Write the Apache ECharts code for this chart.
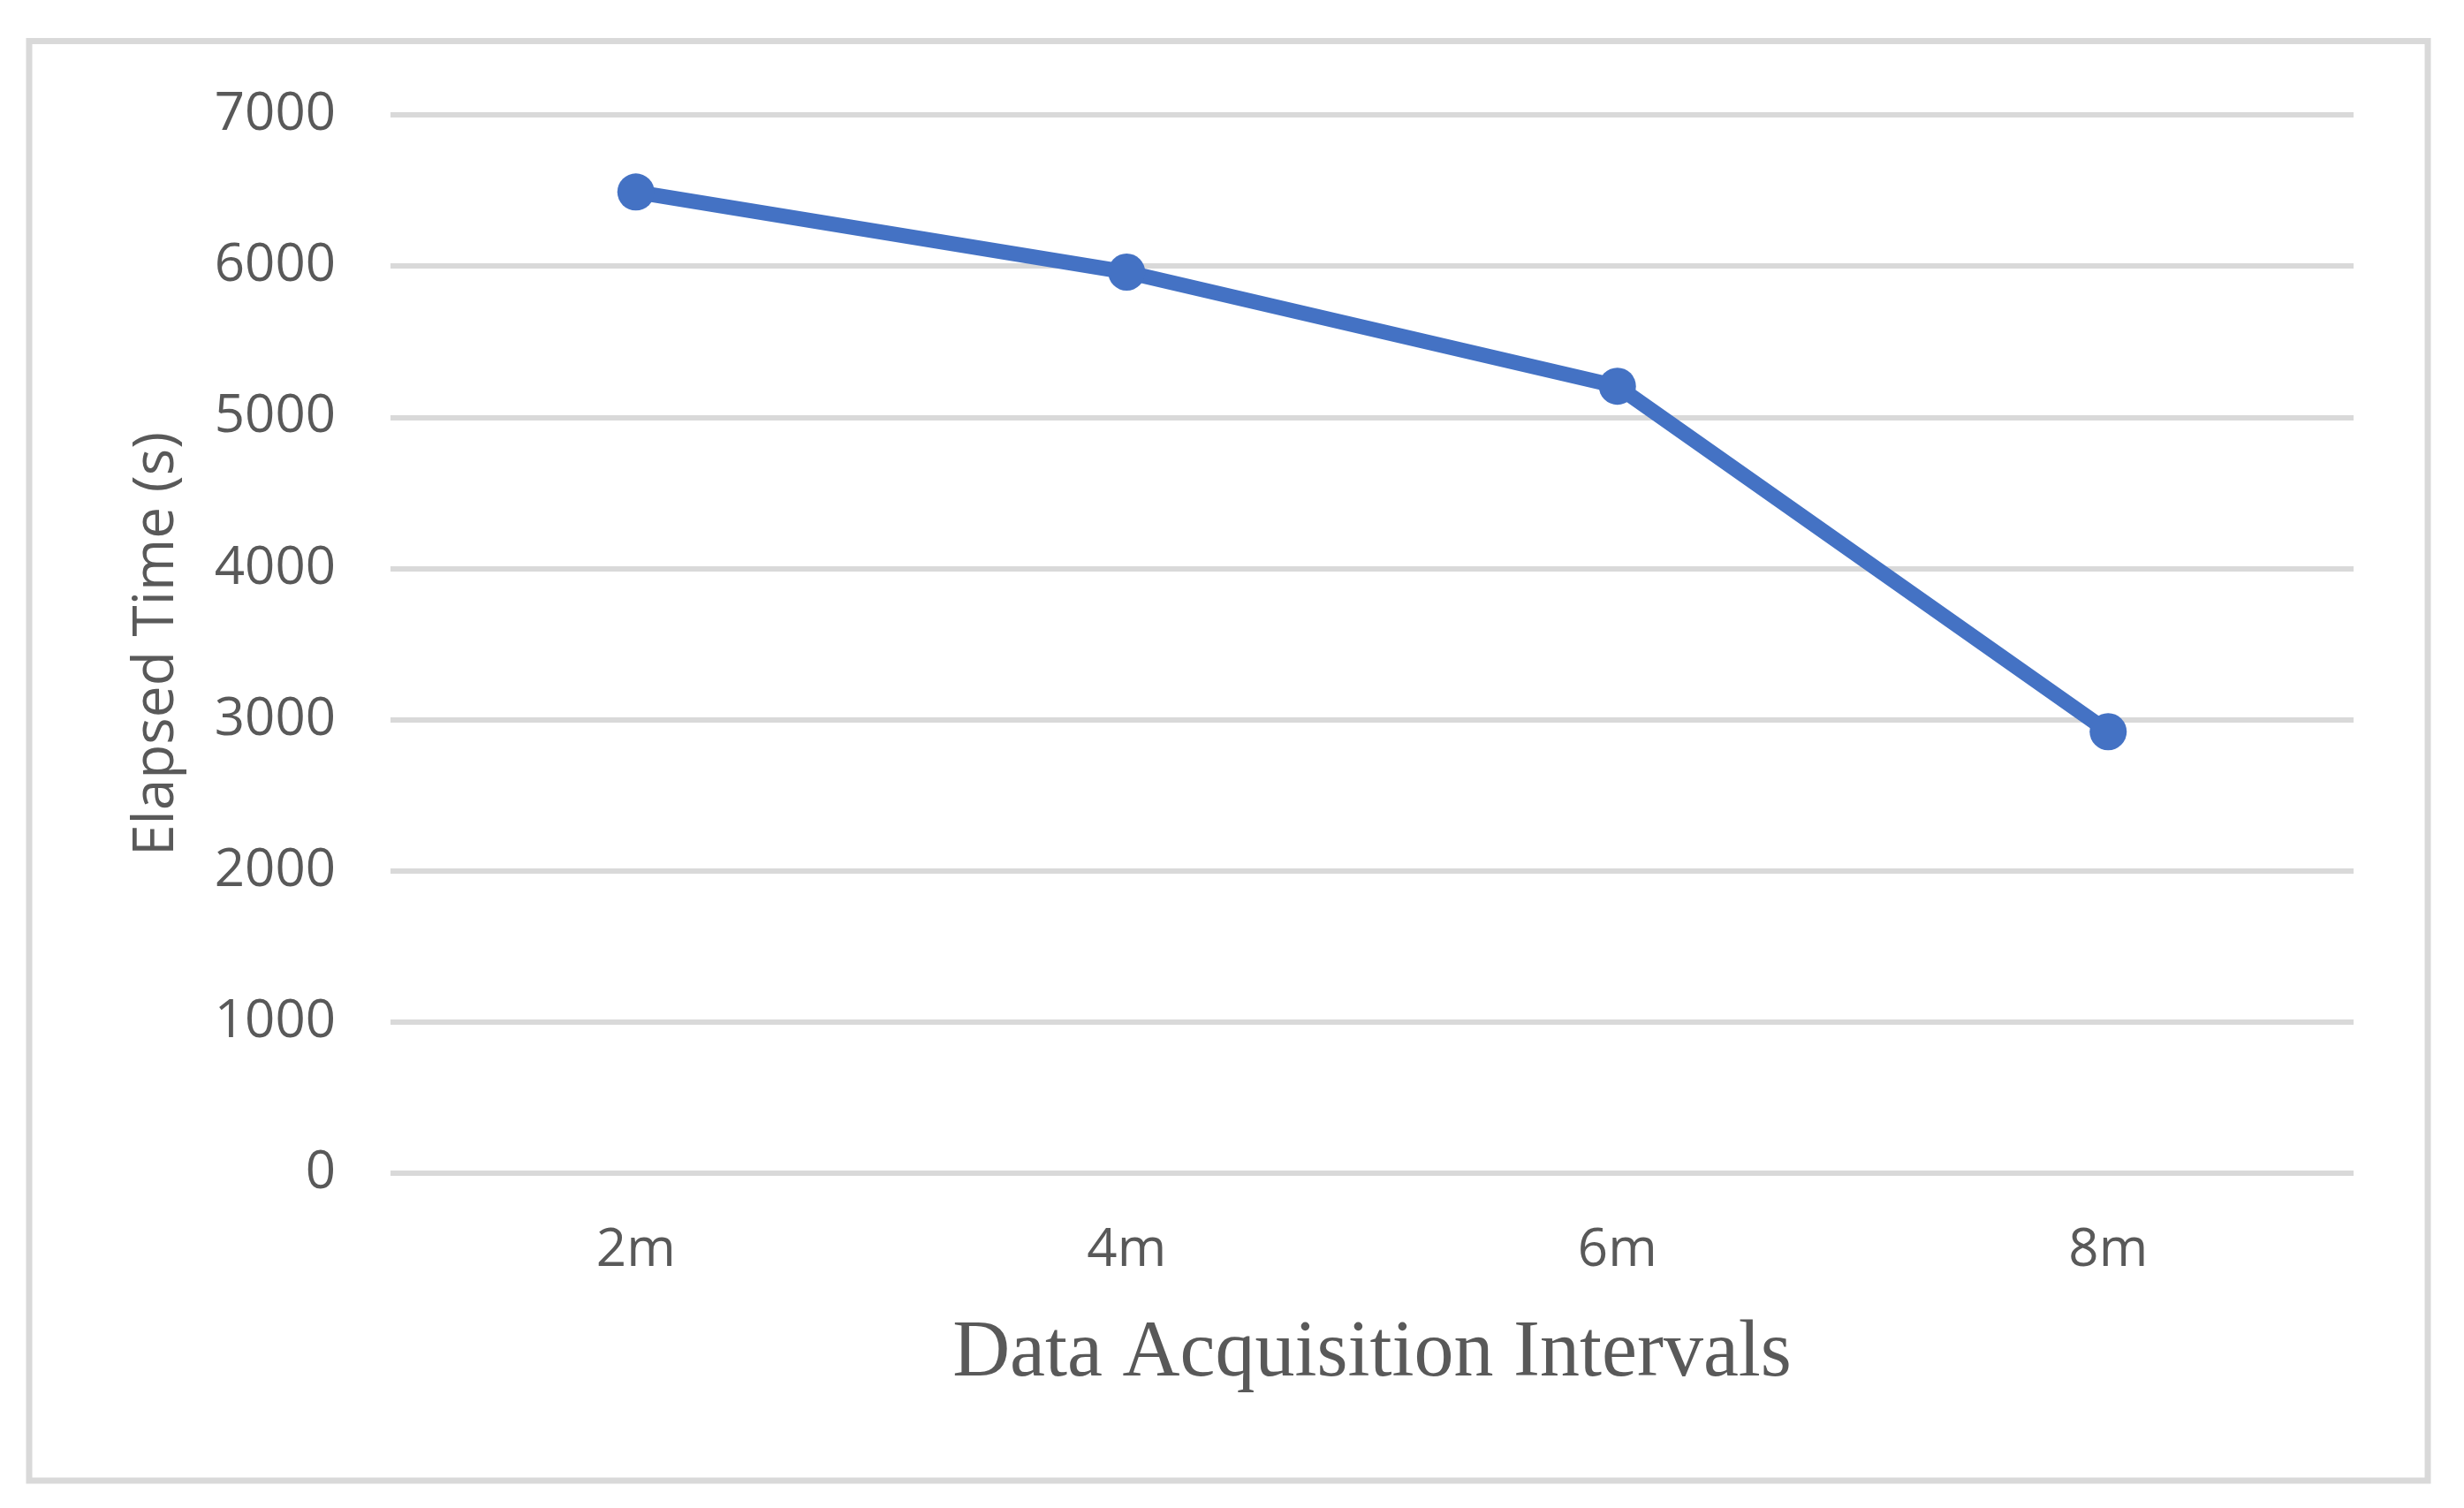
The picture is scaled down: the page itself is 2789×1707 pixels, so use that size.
<!DOCTYPE html>
<html>
<head>
<meta charset="utf-8">
<script src="https://cdn.jsdelivr.net/npm/echarts@6/dist/echarts.min.js"></script>
<style>
  html, body { margin: 0; padding: 0; background: #ffffff; }
  #chart { width: 2789px; height: 1707px; }
</style>
</head>
<body>
<div id="chart"></div>
<script>
const categories = ['2m', '4m', '6m', '8m'];
const elapsedTime = [6490, 5960, 5205, 2920];
const yTicks = [0, 1000, 2000, 3000, 4000, 5000, 6000, 7000];
const xAxisTitle = 'Data Acquisition Intervals';
const yAxisTitle = 'Elapsed Time (s)';

const chart = echarts.init(document.getElementById('chart'), null, { renderer: 'canvas' });
const tickFont = '"Segoe UI", "Open Sans", "Noto Sans", sans-serif';

chart.setOption({
  backgroundColor: '#ffffff',
  animation: false,
  graphic: [{
    type: 'rect',
    shape: { x: 33, y: 46.5, width: 2715, height: 1629.5 },
    style: { fill: 'none', stroke: '#d9d9d9', lineWidth: 7 },
    silent: true
  }],
  grid: { left: 442, right: 125, top: 130, bottom: 379, containLabel: false },
  xAxis: {
    type: 'category',
    data: categories,
    boundaryGap: true,
    axisLine: { show: false },
    axisTick: { show: false },
    axisLabel: { color: '#595959', fontSize: 60, fontFamily: tickFont, margin: 58 },
    name: xAxisTitle,
    nameLocation: 'middle',
    nameGap: 160,
    nameTextStyle: { color: '#595959', fontSize: 90, fontFamily: '"Times New Roman", "Liberation Serif", serif' }
  },
  yAxis: {
    type: 'value',
    min: yTicks[0],
    max: yTicks[yTicks.length - 1],
    interval: yTicks[1] - yTicks[0],
    axisLine: { show: false },
    axisTick: { show: false },
    axisLabel: {
      color: '#595959', fontSize: 60, fontFamily: tickFont, margin: 62,
      formatter: function (v) { return String(v); }
    },
    splitLine: { show: true, lineStyle: { color: '#d9d9d9', width: 6 } },
    name: yAxisTitle,
    nameLocation: 'middle',
    nameGap: 232,
    nameTextStyle: { color: '#595959', fontSize: 64, fontFamily: tickFont }
  },
  series: [{
    type: 'line',
    data: elapsedTime,
    symbol: 'circle',
    symbolSize: 42,
    lineStyle: { color: '#4472c4', width: 17 },
    itemStyle: { color: '#4472c4' },
    emphasis: { disabled: true }
  }]
});
</script>
</body>
</html>
